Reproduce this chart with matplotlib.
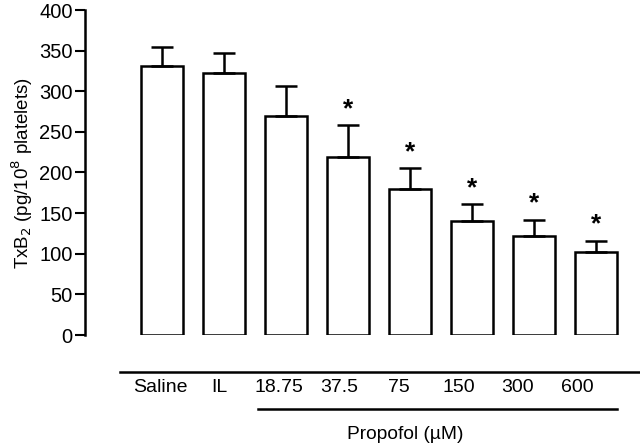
import matplotlib
matplotlib.use('Agg')
import matplotlib.pyplot as plt
import numpy as np

groups = ['Saline', 'IL', '18.75', '37.5', '75', '150', '300', '600']
txb2_mean = [331, 323, 269, 219, 180, 140, 122, 102]
txb2_sem = [24, 24, 37, 39, 25, 21, 20, 14]
significant = [False, False, False, True, True, True, True, True]

plt.rcParams['font.family'] = ['Liberation Sans', 'DejaVu Sans']

fig = plt.figure(figsize=(6.4, 4.44), dpi=100)
ax = fig.add_axes([85 / 640, 109 / 444, 555 / 640, 325 / 444])

x = np.arange(len(groups))
ax.bar(x, txb2_mean, width=0.68, color='white', edgecolor='black', linewidth=1.8)
ax.errorbar(x, txb2_mean, yerr=[np.zeros(len(x)), txb2_sem], fmt='none',
            ecolor='black', elinewidth=1.8, capsize=8, capthick=1.8)

for xi, m, s, sig in zip(x, txb2_mean, txb2_sem, significant):
    if sig:
        ax.text(xi, m + s + 5, '*', ha='center', va='bottom', fontsize=19,
                fontweight='bold')

ax.set_xlim(-1.242, 7.71)
ax.set_ylim(0, 400)
ax.set_yticks(np.arange(0, 401, 50))
ax.tick_params(axis='y', direction='out', length=7, width=1.5, labelsize=14.5,
               pad=2)
ax.set_xticks([])
for side in ['top', 'right', 'bottom']:
    ax.spines[side].set_visible(False)
ax.spines['left'].set_linewidth(1.8)
ax.set_ylabel('TxB$_2$ (pg/10$^8$ platelets)', fontsize=13.5, labelpad=3)

# group labels and brackets below the axis
ax.plot([-0.68, 7.71], [-45.5, -45.5], color='black', lw=1.8, clip_on=False)
for xi, g in zip(x, groups):
    ax.text(xi * 0.962 - 0.03, -65, g, ha='center', va='center', fontsize=14)
ax.plot([1.55, 7.34], [-91, -91], color='black', lw=1.8, clip_on=False)
ax.text(3.92, -122, 'Propofol (\u00b5M)', ha='center', va='center', fontsize=13.8)

fig.savefig('out.png', dpi=100)
